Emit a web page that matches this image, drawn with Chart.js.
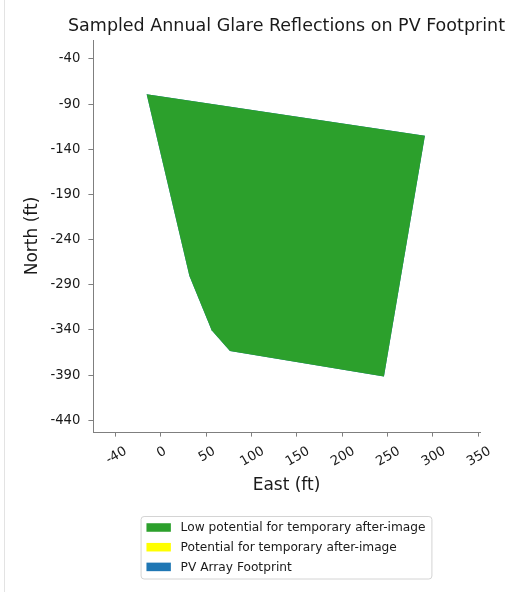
<!DOCTYPE html>
<html>
<head>
<meta charset="utf-8">
<script src="https://cdn.jsdelivr.net/npm/chart.js@4.4.1/dist/chart.umd.min.js"></script>
<style>
  html, body { margin: 0; padding: 0; background: #fff; }
  #frame { position: absolute; left: 4px; top: 0; width: 600px; height: 592px; border-left: 1.5px solid #e3e3e3; }
  #wrap { position: absolute; left: 0; top: 0; width: 521px; height: 592px; }
</style>
</head>
<body>
<div id="frame"></div>
<div id="wrap"><canvas id="chart" width="521" height="592"></canvas></div>
<script>
const FONT = "'DejaVu Sans', sans-serif";
const CHART_TITLE = 'Sampled Annual Glare Reflections on PV Footprint';

// Axis ticks and their printed labels
const xTickValues = [-50, 0, 50, 100, 150, 200, 250, 300, 350];
const xTickLabels = ['-40', '0', '50', '100', '150', '200', '250', '300', '350'];
const yTickValues = [-40, -90, -140, -190, -240, -290, -340, -390, -440];
const yTickLabels = ['-40', '-90', '-140', '-190', '-240', '-290', '-340', '-390', '-440'];

// Glare reflection regions (east / north, ft)
const lowPotentialEast  = [-15.8, 291.2, 246.0, 76.1, 55.9, 31.4];
const lowPotentialNorth = [-79.1, -125.0, -391.5, -363.2, -340.3, -280.4];
const potentialEast  = [];
const potentialNorth = [];

// PV array footprint outline (east / north, ft)
const footprintEast  = [-15.8, 291.2, 246.0, 76.1, 55.9, 31.4];
const footprintNorth = [-79.1, -125.0, -391.5, -363.2, -340.3, -280.4];

const seriesLabels = [
  'Low potential for temporary after-image',
  'Potential for temporary after-image',
  'PV Array Footprint'
];
const seriesColors = ['#2ca02c', '#ffff00', '#1f77b4'];

// Closed ring of {x, y} points for a filled polygon
function ring(xs, ys) {
  const pts = xs.map((x, i) => ({ x: x, y: ys[i] }));
  if (pts.length) pts.push({ x: pts[0].x, y: pts[0].y });
  return pts;
}

function polygon(label, color, xs, ys) {
  return {
    label: label,
    data: ring(xs, ys),
    backgroundColor: color,
    borderColor: 'rgba(0,0,0,0)',
    borderWidth: 0,
    pointRadius: 0,
    pointHoverRadius: 0,
    fill: 'shape',
    tension: 0
  };
}

// Title centred over the plot area, allowed to run wider than it
const plotTitlePlugin = {
  id: 'plotTitle',
  afterDraw(chart) {
    const ctx = chart.ctx;
    const ca = chart.chartArea;
    ctx.save();
    ctx.font = '17.5px ' + FONT;
    ctx.fillStyle = '#1a1a1a';
    ctx.textAlign = 'center';
    ctx.textBaseline = 'alphabetic';
    ctx.fillText(CHART_TITLE, (ca.left + ca.right) / 2, 31);
    ctx.restore();
  }
};

// Rotated, centred labels under the east axis ticks
const xLabelPlugin = {
  id: 'rotatedXLabels',
  afterDraw(chart) {
    const sc = chart.scales.x;
    const ctx = chart.ctx;
    const fs = 13.2;
    const ang = 30 * Math.PI / 180;
    const inkTop = chart.chartArea.bottom + 13;
    ctx.save();
    ctx.font = fs + 'px ' + FONT;
    ctx.fillStyle = '#1a1a1a';
    ctx.textAlign = 'left';
    ctx.textBaseline = 'alphabetic';
    xTickValues.forEach((v, i) => {
      const txt = xTickLabels[i];
      const w = ctx.measureText(txt).width;
      const cx = sc.getPixelForValue(v);
      const cy = inkTop + (w * Math.sin(ang) + 0.73 * fs * Math.cos(ang)) / 2;
      ctx.save();
      ctx.translate(cx, cy);
      ctx.rotate(-ang);
      ctx.fillText(txt, -w / 2, 0.365 * fs);
      ctx.restore();
    });
    ctx.restore();
  }
};

// Framed legend below the plot, one entry per row
const boxLegendPlugin = {
  id: 'boxLegend',
  afterDraw(chart) {
    const ctx = chart.ctx;
    const ca = chart.chartArea;
    const fs = 12.2;
    const pad = 0.4 * fs, handleW = 2 * fs, handleH = 0.7 * fs, gap = 0.8 * fs, rowH = 19.7;
    ctx.save();
    ctx.font = fs + 'px ' + FONT;
    const items = chart.data.datasets.map(d => ({ text: d.label, color: d.backgroundColor }));
    const textW = Math.max(...items.map(it => ctx.measureText(it.text).width));
    const boxW = pad * 2 + handleW + gap + textW + 2;
    const boxH = 62.5;
    const left = (ca.left + ca.right) / 2 - boxW / 2;
    const top = 516.5;
    ctx.beginPath();
    ctx.roundRect(left, top, boxW, boxH, 3);
    ctx.fillStyle = '#ffffff';
    ctx.fill();
    ctx.strokeStyle = '#d4d4d4';
    ctx.lineWidth = 1;
    ctx.stroke();
    items.forEach((it, i) => {
      const cy = top + 11 + i * rowH;
      ctx.fillStyle = it.color;
      ctx.fillRect(left + pad + 0.5, cy - handleH / 2, handleW, handleH);
      ctx.fillStyle = '#1a1a1a';
      ctx.textBaseline = 'middle';
      ctx.fillText(it.text, left + pad + handleW + gap + 0.5, cy + 0.5);
    });
    ctx.restore();
  }
};

const axisColor = '#7f7f7f';

new Chart(document.getElementById('chart'), {
  type: 'line',
  data: {
    datasets: [
      polygon(seriesLabels[0], seriesColors[0], lowPotentialEast, lowPotentialNorth),
      polygon(seriesLabels[1], seriesColors[1], potentialEast, potentialNorth),
      polygon(seriesLabels[2], seriesColors[2], footprintEast, footprintNorth)
    ]
  },
  options: {
    responsive: false,
    animation: false,
    devicePixelRatio: 1,
    layout: { padding: { left: 0, right: 41, top: 40, bottom: 90 } },
    plugins: {
      legend: { display: false },
      tooltip: { enabled: false },
      title: { display: false }
    },
    scales: {
      x: {
        type: 'linear',
        min: -75,
        max: 352,
        afterBuildTicks: s => { s.ticks = xTickValues.map(v => ({ value: v })); },
        afterFit: s => { s.height = 70; },
        ticks: { display: false },
        grid: { drawOnChartArea: false, drawTicks: true, tickLength: 4.6, color: axisColor, lineWidth: 1 },
        border: { display: true, color: axisColor, width: 1 },
        title: {
          display: true,
          text: 'East (ft)',
          color: '#1a1a1a',
          font: { family: FONT, size: 17 },
          padding: { top: 0, bottom: 6 }
        }
      },
      y: {
        type: 'linear',
        min: -453,
        max: -19,
        afterBuildTicks: s => { s.ticks = yTickValues.map(v => ({ value: v })); },
        afterFit: s => { s.width = 93; },
        ticks: {
          color: '#1a1a1a',
          font: { family: FONT, size: 13.2 },
          padding: 8,
          callback: v => yTickLabels[yTickValues.indexOf(v)]
        },
        grid: { drawOnChartArea: false, drawTicks: true, tickLength: 4.6, color: axisColor, lineWidth: 1 },
        border: { display: true, color: axisColor, width: 1 },
        title: {
          display: true,
          text: 'North (ft)',
          color: '#1a1a1a',
          font: { family: FONT, size: 17 },
          padding: { top: 22, bottom: 0 }
        }
      }
    }
  },
  plugins: [plotTitlePlugin, xLabelPlugin, boxLegendPlugin]
});
</script>
</body>
</html>
